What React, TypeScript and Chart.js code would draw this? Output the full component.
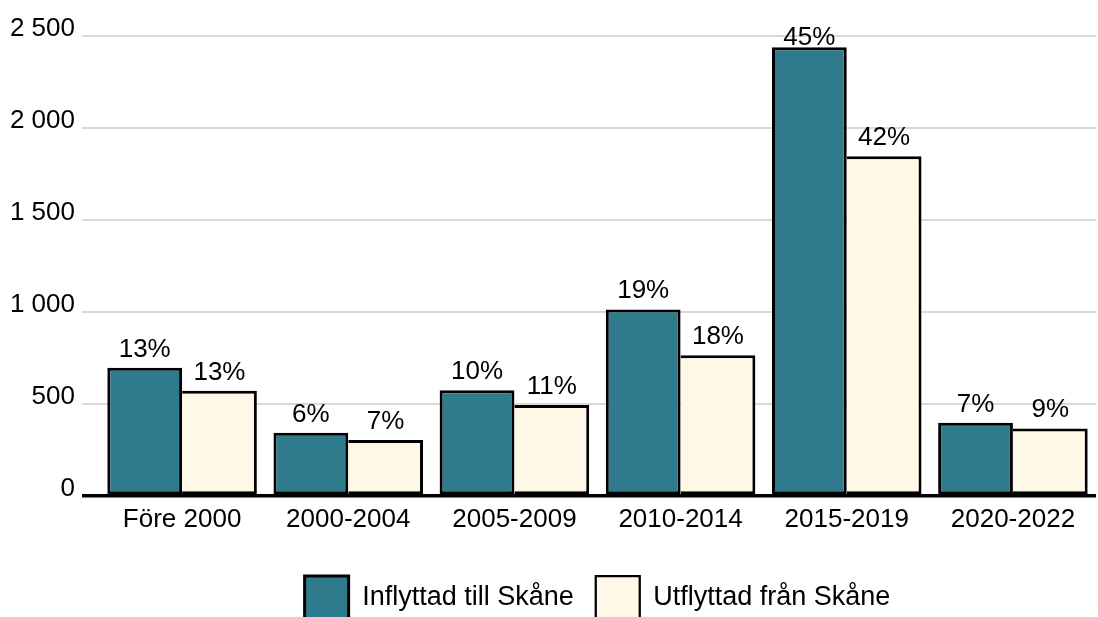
import React, { useEffect, useRef } from "react";
import { Chart, registerables } from "chart.js";

Chart.register(...registerables);

const categories = ["Före 2000", "2000-2004", "2005-2009", "2010-2014", "2015-2019", "2020-2022"];
const inflyttad = [697, 344, 575, 1014, 2439, 398];
const utflyttad = [572, 304, 494, 765, 1846, 367];
const inflyttadPct = ["13%", "6%", "10%", "19%", "45%", "7%"];
const utflyttadPct = ["13%", "7%", "11%", "18%", "42%", "9%"];
const seriesNames = ["Inflyttad till Skåne", "Utflyttad från Skåne"];
const yMin = 0;
const yMax = 2500;
const yStep = 500;

const FONT = "'Liberation Sans', Arial, Helvetica, sans-serif";
const TEAL = "#2f7a8d";
const CREAM = "#fff8e6";

const pctLabels = [inflyttadPct, utflyttadPct];

const formatNum = (v: number) => String(v).replace(/\B(?=(\d{3})+(?!\d))/g, " ");

const valueLabelPlugin = {
  id: "valueLabels",
  afterDatasetsDraw(chart: any) {
    const ctx = chart.ctx;
    ctx.save();
    ctx.font = `26px ${FONT}`;
    ctx.fillStyle = "#000";
    ctx.textAlign = "center";
    ctx.textBaseline = "alphabetic";
    chart.data.datasets.forEach((_ds: any, i: number) => {
      const meta = chart.getDatasetMeta(i);
      meta.data.forEach((el: any, j: number) => {
        const y = Math.max(el.y - 11, chart.chartArea.top + 9);
        ctx.fillText(pctLabels[i][j], el.x, y);
      });
    });
    ctx.restore();
  },
};

export default function App() {
  const canvasRef = useRef<HTMLCanvasElement | null>(null);

  useEffect(() => {
    document.body.style.margin = "0";
    document.body.style.overflow = "hidden";
    const canvas = canvasRef.current;
    if (!canvas) return;
    Chart.defaults.font.family = FONT;
    Chart.defaults.color = "#000";
    const chart = new Chart(canvas, {
      type: "bar",
      data: {
        labels: categories,
        datasets: [
          {
            label: seriesNames[0],
            data: inflyttad,
            backgroundColor: TEAL,
            borderColor: "#000",
            borderWidth: { top: 3, left: 3, right: 3, bottom: 3 },
            borderSkipped: false,
          },
          {
            label: seriesNames[1],
            data: utflyttad,
            backgroundColor: CREAM,
            borderColor: "#000",
            borderWidth: { top: 3, left: 0, right: 3, bottom: 3 },
            borderSkipped: false,
          },
        ],
      },
      options: {
        responsive: false,
        animation: false,
        layout: { padding: { top: 36, right: 2, left: 0, bottom: 0 } },
        datasets: {
          bar: { categoryPercentage: 0.9, barPercentage: 1.0 },
        },
        plugins: {
          tooltip: { enabled: false },
          legend: {
            position: "bottom",
            fullSize: false,
            labels: {
              boxWidth: 44,
              boxHeight: 44,
              padding: 22,
              color: "#000",
              font: { size: 27, family: FONT },
            },
          },
        },
        scales: {
          x: {
            grid: { display: false },
            border: { display: false },
            ticks: { padding: 0, font: { size: 26, family: FONT }, color: "#000", maxRotation: 0 },
            afterFit: (scale: any) => {
              scale.height = 58;
            },
          },
          y: {
            min: yMin,
            max: yMax,
            border: { display: false },
            grid: {
              color: (c: any) => (c.tick && c.tick.value === 0 ? "#000" : "#d9d9d9"),
              lineWidth: (c: any) => (c.tick && c.tick.value === 0 ? 3.5 : 2),
              tickLength: 17,
              drawTicks: true,
            },
            ticks: {
              stepSize: yStep,
              padding: 7,
              labelOffset: -7,
              font: { size: 26, family: FONT },
              color: "#000",
              callback: (v: any) => formatNum(Number(v)),
            },
            afterFit: (scale: any) => {
              scale.width = 99;
            },
          },
        },
      },
      plugins: [valueLabelPlugin],
    } as any);
    return () => chart.destroy();
  }, []);

  return (
    <div style={{ position: "absolute", left: 0, top: 0, width: 1098, height: 617, overflow: "hidden" }}>
      <canvas ref={canvasRef} width={1098} height={630} style={{ display: "block" }} />
    </div>
  );
}
